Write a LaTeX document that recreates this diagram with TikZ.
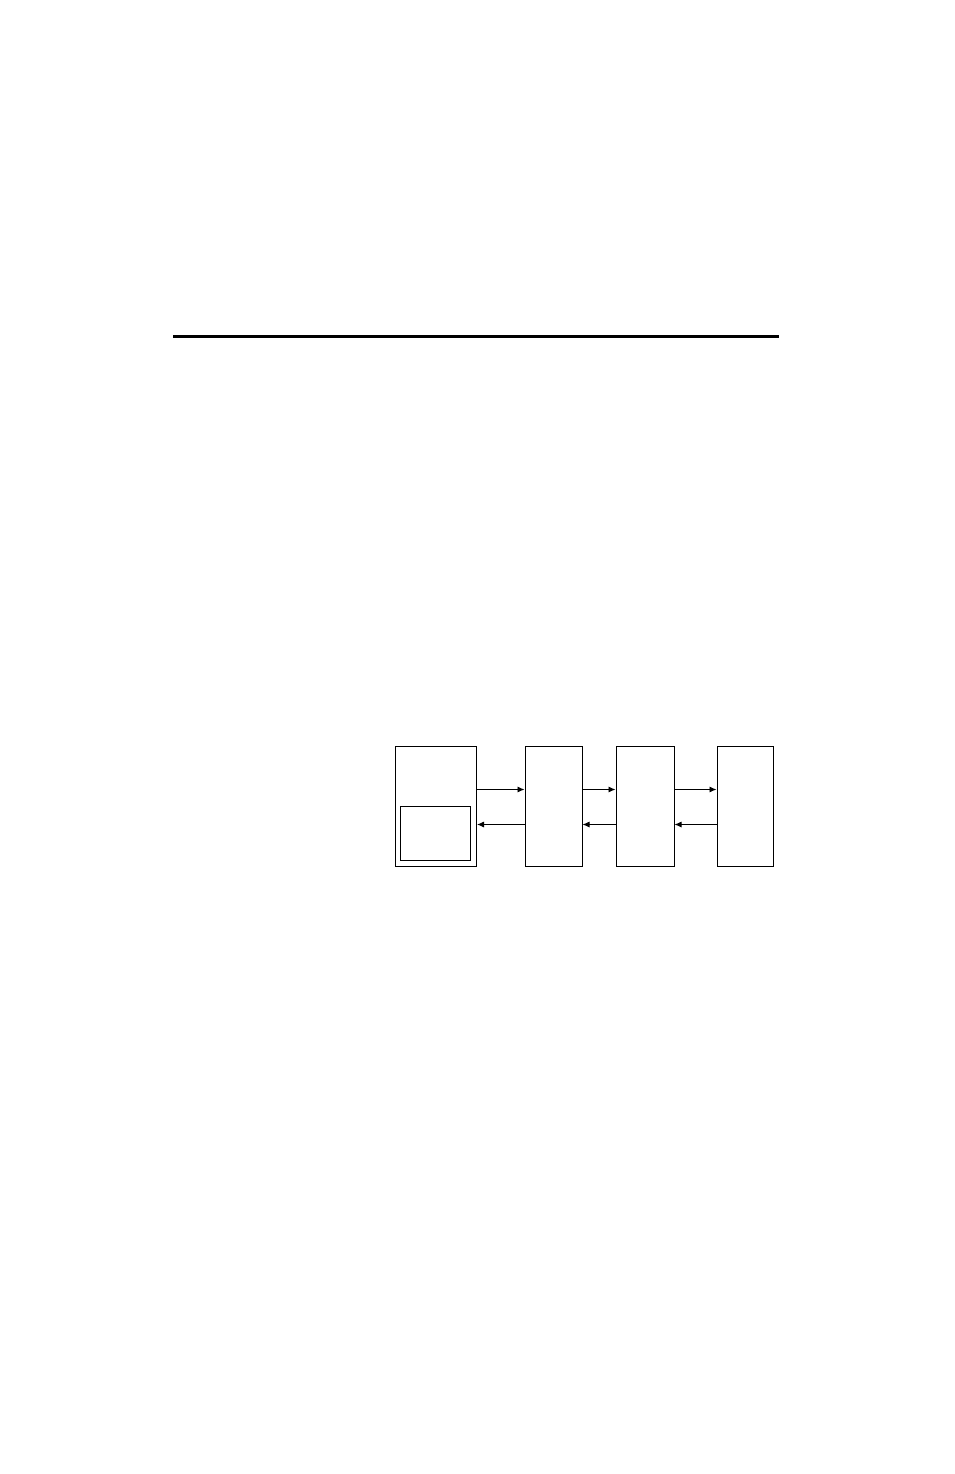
\documentclass[tikz,border=0pt]{standalone}
\usetikzlibrary{arrows.meta}
\begin{document}
\begin{tikzpicture}[x=1pt,y=-1pt,
  blk/.style={draw,line width=1pt},
  conn/.style={line width=0.9pt,-{Latex[length=7pt,width=6pt]}}]
\useasboundingbox (0,0) rectangle (954,1474);
\coordinate (rl) at (173,336);
\coordinate (rr) at (779,336);
\draw[line width=3pt] (rl) -- (rr);
\node[blk,minimum width=81pt,minimum height=120pt,inner sep=0pt] (b1) at (436,806) {};
\node[blk,minimum width=70pt,minimum height=54pt,inner sep=0pt] (b1i) at (435,833) {};
\node[blk,minimum width=57pt,minimum height=120pt,inner sep=0pt] (b2) at (553.5,806) {};
\node[blk,minimum width=58pt,minimum height=120pt,inner sep=0pt] (b3) at (645,806) {};
\node[blk,minimum width=56pt,minimum height=120pt,inner sep=0pt] (b4) at (745,806) {};
\draw[conn] (b1.east |- 0,789.5) -- (b2.west |- 0,789.5);
\draw[conn] (b2.east |- 0,789.5) -- (b3.west |- 0,789.5);
\draw[conn] (b3.east |- 0,789.5) -- (b4.west |- 0,789.5);
\draw[conn] (b2.west |- 0,824.5) -- (b1.east |- 0,824.5);
\draw[conn] (b3.west |- 0,824.5) -- (b2.east |- 0,824.5);
\draw[conn] (b4.west |- 0,824.5) -- (b3.east |- 0,824.5);
\end{tikzpicture}
\end{document}
